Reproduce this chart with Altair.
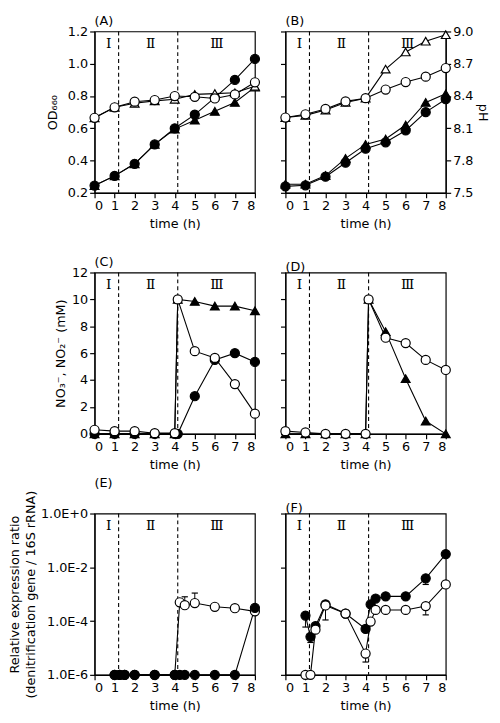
import math
import altair as alt
import pandas as pd

FONT = "DejaVu Sans"
ROMAN_FONT = "DejaVu Serif"

# ---------------- data ----------------
X_TICKS = [0, 1, 2, 3, 4, 5, 6, 7, 8]
PHASE_X = [1.2, 4.15]
ROMAN = ["Ⅰ", "Ⅱ", "Ⅲ"]
ROMAN_X = [0.7, 2.8, 6.1]

T9 = [0, 1, 2, 3, 4, 5, 6, 7, 8]
a_fill_tri = [0.245, 0.305, 0.38, 0.50, 0.595, 0.65, 0.705, 0.76, 0.855]
a_fill_circle = [0.245, 0.305, 0.38, 0.50, 0.60, 0.685, 0.79, 0.90, 1.03]
a_open_tri = [0.665, 0.73, 0.755, 0.77, 0.78, 0.81, 0.815, 0.82, 0.86]
a_open_circle = [0.665, 0.73, 0.765, 0.775, 0.80, 0.795, 0.785, 0.81, 0.885]

b_fill_tri = [7.58, 7.58, 7.66, 7.82, 7.95, 8.00, 8.13, 8.34, 8.42]
b_fill_circle = [7.56, 7.57, 7.65, 7.78, 7.91, 7.97, 8.08, 8.25, 8.37]
b_open_tri = [8.20, 8.22, 8.27, 8.34, 8.38, 8.65, 8.81, 8.91, 8.97]
b_open_circle = [8.20, 8.23, 8.28, 8.35, 8.38, 8.46, 8.53, 8.58, 8.66]

T10 = [0, 1, 2, 3, 4, 4.15, 5, 6, 7, 8]
c_fill_tri = [0, 0, 0, 0, 0, 10, 9.85, 9.5, 9.5, 9.15]
c_fill_circle = [0, 0, 0, 0, 0, 0, 2.8, 5.5, 6.0, 5.35]
c_open_circle = [0.3, 0.2, 0.2, 0.05, 0.05, 10, 6.15, 5.65, 3.7, 1.5]

d_fill_tri = [0, 0, 0, 0, 0, 10, 7.6, 4.1, 0.95, 0]
d_open_circle = [0.2, 0.1, 0, 0, 0, 10, 7.15, 6.75, 5.5, 4.75]

T12 = [1, 1.25, 1.5, 2, 3, 4, 4.25, 4.5, 5, 6, 7, 8]
e_open_circle = [1e-6, 1e-6, 1e-6, 1e-6, 1e-6, 1e-6, 5.0e-4, 3.9e-4, 4.7e-4, 3.4e-4, 3.0e-4, 2.3e-4]
e_fill_circle = [1e-6, 1e-6, 1e-6, 1e-6, 1e-6, 1e-6, 1e-6, 1e-6, 1e-6, 1e-6, 1e-6, 3.1e-4]
e_err_t = [4.5, 5]
e_err_v = [3.9e-4, 4.7e-4]
e_err_end = [8.0e-4, 1.1e-3]

f_fill_circle = [1.6e-4, 2.6e-5, 6.5e-5, 4.2e-4, 1.9e-4, 5.1e-5, 4.2e-4, 6.9e-4, 8.3e-4, 8.3e-4, 3.9e-3, 3.1e-2]
f_open_circle = [1e-6, 1e-6, 4.8e-5, 3.8e-4, 1.9e-4, 6.2e-6, 9.6e-5, 2.6e-4, 2.6e-4, 2.6e-4, 3.6e-4, 2.3e-3]
f_err_t = [1, 1.25, 2, 7, 4, 7]
f_err_v = [1.6e-4, 2.6e-5, 4.2e-4, 3.9e-3, 6.2e-6, 3.6e-4]
f_err_end = [6.0e-5, 1.6e-5, 1.1e-4, 2.3e-3, 3.0e-6, 1.7e-4]

# ---------------- styling ----------------
W, H = 163, 164
STYLE = {
    "fill_tri": dict(shape="triangle-up", fill="black", size=80),
    "fill_circle": dict(shape="circle", fill="black", size=85),
    "open_tri": dict(shape="triangle-up", fill="white", size=80),
    "open_circle": dict(shape="circle", fill="white", size=85),
}
LW = 1.1


def panel(letter, series, ydom, yvals, log=False, ytitle=None, left_labels=True,
          yfmt=".1f", title_pad=4, right_title=None, errs=None):
    xs = alt.Scale(domain=[0, 8], nice=False)
    if log:
        ys = alt.Scale(type="log", domain=ydom, nice=False)
    else:
        ys = alt.Scale(domain=ydom, nice=False, zero=False)
    x_axis = alt.Axis(values=X_TICKS, title="time (h)", format="d", titlePadding=5)
    if left_labels:
        kw = dict(values=yvals, title=ytitle, titlePadding=title_pad)
        if log:
            kw["labelExpr"] = "datum.value >= 1 ? '1.0E+0' : '1.0E' + round(log(datum.value) / LN10)"
        else:
            kw["format"] = yfmt
        y_axis = alt.Axis(**kw)
    else:
        y_axis = alt.Axis(values=yvals, labels=False, title=None)

    X = lambda f: alt.X(f, scale=xs, axis=x_axis)
    Y = lambda f: alt.Y(f, scale=ys, axis=y_axis)

    layers = []
    rules = alt.Chart(pd.DataFrame({"t": PHASE_X})).mark_rule(
        color="black", strokeDash=[4, 3], strokeWidth=1.1
    ).encode(x=X("t:Q"))
    layers.append(rules)

    if errs is not None:
        et, ev, ee = errs
        edf = pd.DataFrame({"t": et, "v": ev, "e": ee})
        layers.append(alt.Chart(edf).mark_rule(color="black", strokeWidth=1).encode(
            x=X("t:Q"), y=Y("v:Q"), y2="e:Q"))
        layers.append(alt.Chart(edf).mark_point(
            shape="M-1,0L1,0", size=40, stroke="black", strokeWidth=1.2, filled=False, opacity=1
        ).encode(x=X("t:Q"), y=Y("e:Q")))

    for (tx, vals, kind) in series:
        df = pd.DataFrame({"t": tx, "v": vals})
        layers.append(alt.Chart(df).mark_line(color="black", strokeWidth=LW).encode(
            x=X("t:Q"), y=Y("v:Q")))
    for (tx, vals, kind) in series:
        df = pd.DataFrame({"t": tx, "v": vals})
        st = STYLE[kind]
        layers.append(alt.Chart(df).mark_point(
            shape=st["shape"], size=st["size"], filled=True, fill=st["fill"],
            stroke="black", strokeWidth=1.2, opacity=1
        ).encode(x=X("t:Q"), y=Y("v:Q")))

    if log:
        lo, hi = math.log10(ydom[0]), math.log10(ydom[1])
        ry = 10 ** (hi - 0.08 * (hi - lo))
    else:
        ry = ydom[1] - 0.08 * (ydom[1] - ydom[0])
    rdf = pd.DataFrame({"t": ROMAN_X, "v": [ry] * 3, "lab": ROMAN})
    layers.append(alt.Chart(rdf).mark_text(font=ROMAN_FONT, fontSize=14, color="black",
                                           baseline="middle", align="center").encode(
        x=X("t:Q"), y=Y("v:Q"), text="lab:N"))

    ch = alt.layer(*layers)
    if right_title is not None:
        right = alt.Chart(rdf).mark_text(opacity=0).encode(
            x=X("t:Q"),
            y=alt.Y("v:Q", scale=ys, axis=alt.Axis(values=yvals, orient="right", format=yfmt,
                                                   title=right_title, titlePadding=3)),
            text="lab:N")
        ch = alt.layer(ch, right).resolve_axis(y="independent")

    return ch.properties(
        width=W, height=H,
        title=alt.TitleParams(f"({letter})", anchor="start", frame="group", font=FONT,
                              fontSize=13, fontWeight="normal", offset=-2, color="black"))


A = panel("A", [(T9, a_fill_tri, "fill_tri"), (T9, a_fill_circle, "fill_circle"),
                (T9, a_open_tri, "open_tri"), (T9, a_open_circle, "open_circle")],
          [0.2, 1.2], [0.2, 0.4, 0.6, 0.8, 1.0, 1.2], ytitle="OD₆₆₀", title_pad=8)
B = panel("B", [(T9, b_fill_tri, "fill_tri"), (T9, b_fill_circle, "fill_circle"),
                (T9, b_open_tri, "open_tri"), (T9, b_open_circle, "open_circle")],
          [7.5, 9.0], [7.5, 7.8, 8.1, 8.4, 8.7, 9.0], left_labels=False, right_title="pH")
C = panel("C", [(T10, c_fill_tri, "fill_tri"), (T10, c_fill_circle, "fill_circle"),
                (T10, c_open_circle, "open_circle")],
          [0, 12], [0, 2, 4, 6, 8, 10, 12], ytitle="NO₃⁻, NO₂⁻ (mM)", yfmt="d", title_pad=4)
D = panel("D", [(T10, d_fill_tri, "fill_tri"), (T10, d_open_circle, "open_circle")],
          [0, 12], [0, 2, 4, 6, 8, 10, 12], left_labels=False, yfmt="d")
E = panel("E", [(T12, e_open_circle, "open_circle"), (T12, e_fill_circle, "fill_circle")],
          [1e-6, 1], [1e-6, 1e-4, 1e-2, 1], log=True,
          ytitle=["Relative expression ratio", "(denitrification  gene / 16S rRNA)"],
          title_pad=3, errs=(e_err_t, e_err_v, e_err_end))
F = panel("F", [(T12, f_fill_circle, "fill_circle"), (T12, f_open_circle, "open_circle")],
          [1e-6, 1], [1e-6, 1e-4, 1e-2, 1], log=True, left_labels=False,
          errs=(f_err_t, f_err_v, f_err_end))

chart = alt.concat(A, B, C, D, E, F, columns=2, spacing={"row": 81, "column": 31},
                   bounds="flush").properties(
    padding={"left": 0, "top": 0, "right": 2, "bottom": 0}
).configure_view(stroke="black", strokeWidth=1.2).configure_axis(
    domainColor="black", tickColor="black", labelColor="black", titleColor="black",
    labelFont=FONT, titleFont=FONT, labelFontSize=13, titleFontSize=13,
    titleFontWeight="normal", grid=False, tickSize=5, domainWidth=1.2, tickWidth=1.2,
    labelPadding=2, titleLineHeight=16
)

chart.save("out.html", embed_options={"renderer": "svg", "actions": False})
